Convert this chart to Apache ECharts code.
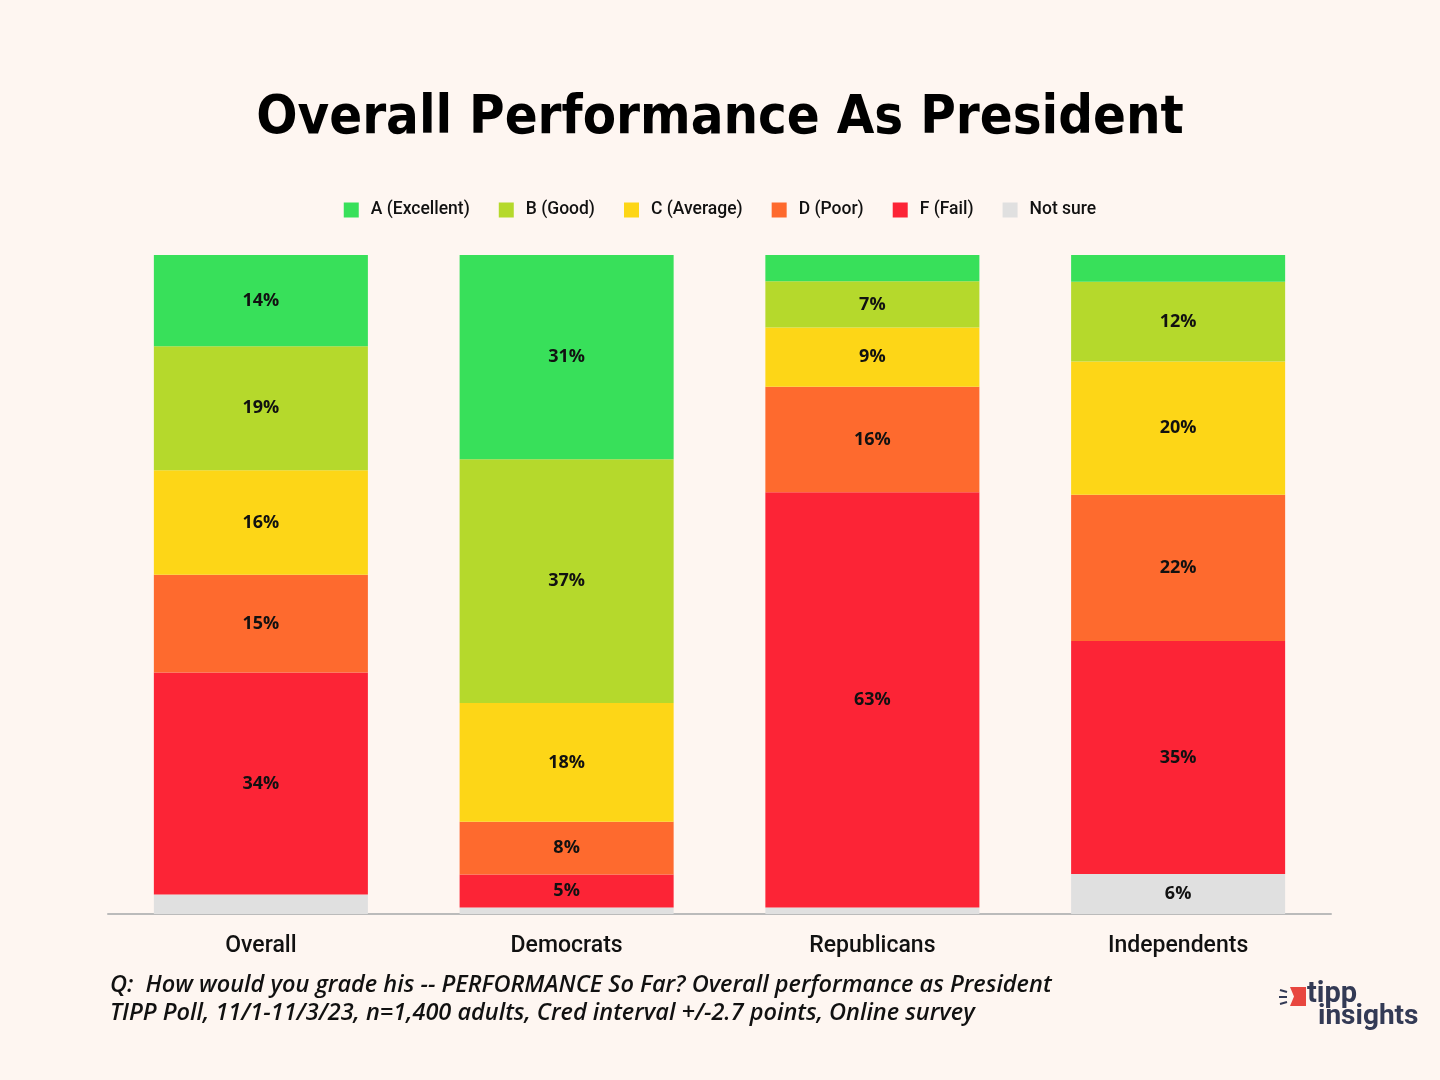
<!DOCTYPE html>
<html><head><meta charset="utf-8">
<script src="https://cdn.jsdelivr.net/npm/echarts@6/dist/echarts.min.js"></script>
<style>html,body{margin:0;padding:0;background:#FEF6F1;}#c{width:1440px;height:1080px;}</style>
</head><body><div id="c"></div>
<script>
const categories = ['Overall', 'Democrats', 'Republicans', 'Independents'];
const seriesNames = ['Not sure', 'F (Fail)', 'D (Poor)', 'C (Average)', 'B (Good)', 'A (Excellent)'];
const notSure   = [3, 1, 1, 6];
const gradeF    = [34, 5, 63, 35];
const gradeD    = [15, 8, 16, 22];
const gradeC    = [16, 18, 9, 20];
const gradeB    = [19, 37, 7, 12];
const gradeA    = [14, 31, 4, 4];
const colors = ['#E0E0E0', '#FC2436', '#FE6A2E', '#FDD617', '#B5D92C', '#38E05A'];

const raw = [notSure, gradeF, gradeD, gradeC, gradeB, gradeA];
const totals = categories.map((_, i) => raw.reduce((s, arr) => s + arr[i], 0));

const chart = echarts.init(document.getElementById('c'));
const series = raw.map((arr, k) => ({
  name: seriesNames[k],
  type: 'bar',
  stack: 'total',
  barWidth: '70%',
  itemStyle: { color: colors[k] },
  label: {
    show: true,
    position: 'inside',
    color: '#111',
    fontFamily: 'Open Sans',
    fontWeight: 'bold',
    fontSize: 18,
    formatter: p => (p.data.raw >= 5 ? p.data.raw + '%' : '')
  },
  data: arr.map((v, i) => ({ value: v / totals[i] * 100, raw: v }))
}));

chart.setOption({
  backgroundColor: '#FEF6F1',
  animation: false,
  title: {
    text: 'Overall Performance As President',
    left: 'center',
    top: 87,
    textStyle: { fontFamily: 'DejaVu Sans Condensed', fontWeight: 'bold', fontSize: 54, color: '#000' }
  },
  legend: {
    data: ['A (Excellent)', 'B (Good)', 'C (Average)', 'D (Poor)', 'F (Fail)', 'Not sure'],
    top: 196,
    left: 'center',
    icon: 'rect',
    itemWidth: 15,
    itemHeight: 15,
    itemGap: 29,
    textStyle: { fontFamily: 'Roboto', fontWeight: 500, fontSize: 17.5, color: '#111', padding: [0, 0, 0, 7] }
  },
  grid: { left: 108, right: 109, top: 255, bottom: 166 },
  xAxis: {
    type: 'category',
    data: categories,
    axisLine: { lineStyle: { color: '#BBBBBB', width: 2 } },
    axisTick: { show: false },
    axisLabel: { fontFamily: 'Roboto', fontWeight: 500, fontSize: 23, color: '#111', margin: 21 }
  },
  yAxis: {
    type: 'value', min: 0, max: 100,
    show: false, splitLine: { show: false }
  },
  series: series,
  graphic: [
    { type: 'text', left: 110, top: 974, style: { text: 'Q:  How would you grade his -- PERFORMANCE So Far? Overall performance as President', fontFamily: 'Open Sans', fontStyle: 'italic', fontWeight: 600, fontSize: 23.5, fill: '#111' } },
    { type: 'text', left: 110, top: 1002, style: { text: 'TIPP Poll, 11/1-11/3/23, n=1,400 adults, Cred interval +/-2.7 points, Online survey', fontFamily: 'Open Sans', fontStyle: 'italic', fontWeight: 600, fontSize: 23.5, fill: '#111' } },
    { type: 'polygon', shape: { points: [[1290, 987], [1306, 987], [1306, 1006], [1290, 1006], [1294, 996.5]] }, style: { fill: '#E8463F' } },
    { type: 'line', shape: { x1: 1280, y1: 990, x2: 1287, y2: 992 }, style: { stroke: '#333A55', lineWidth: 2 } },
    { type: 'line', shape: { x1: 1279, y1: 997, x2: 1287, y2: 997 }, style: { stroke: '#333A55', lineWidth: 2 } },
    { type: 'line', shape: { x1: 1280, y1: 1004, x2: 1287, y2: 1002 }, style: { stroke: '#333A55', lineWidth: 2 } },
    { type: 'text', left: 1307, top: 980, style: { text: 'tipp', fontFamily: 'Roboto', fontWeight: 'bold', fontSize: 29, fill: '#333A55' } },
    { type: 'text', left: 1318, top: 1003, style: { text: 'insights', fontFamily: 'Roboto', fontWeight: 'bold', fontSize: 28, fill: '#333A55' } }
  ]
});
</script></body></html>
